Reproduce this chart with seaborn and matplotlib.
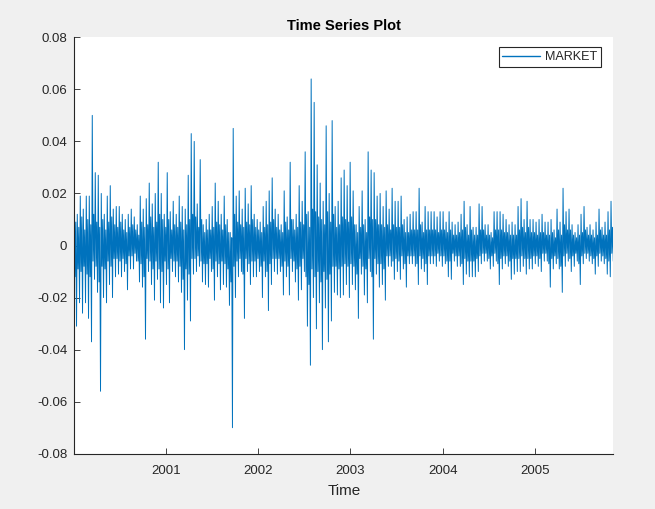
import numpy as np
import pandas as pd
import matplotlib
matplotlib.use("Agg")
import matplotlib.pyplot as plt
import seaborn as sns

# MARKET daily returns (thousandths), one group per ~3 px column:
# extreme high / extreme low of the column and the edges of its dense core
hi_vals = [24, 12, 19, 14, 19, 19, 50, 28, 27, 20, 12, 19, 23, 14, 15, 15, 12, 10, 12, 14,
           11, 8, 19, 14, 18, 24, 16, 20, 32, 20, 12,
           28, 13, 17, 12, 19, 15, 14, 27, 43, 40, 16, 33, 8, 10, 12, 15, 24, 17, 12,
           19, 10, 5, 45, 19, 21, 14, 22, 16, 23, 12,
           10, 9, 15, 17, 21, 26, 14, 12, 8, 21, 11, 32, 10, 12, 23, 17, 36, 13, 64,
           55, 31, 24, 17, 46, 20, 48, 15, 17, 26, 29,
           23, 32, 21, 8, 15, 21, 10, 36, 29, 28, 19, 20, 15, 21, 14, 22, 17, 17, 19,
           10, 11, 12, 13, 13, 22, 9, 15, 13, 13, 13,
           11, 13, 13, 9, 13, 9, 8, 9, 12, 17, 8, 15, 7, 7, 16, 15, 8, 8, 5,
           13, 13, 13, 12, 10, 8, 9, 8, 15, 18, 10,
           17, 10, 10, 9, 10, 12, 9, 9, 10, 6, 14, 9, 22, 13, 14, 8, 5, 8, 12,
           15, 7, 8, 6, 9, 14, 7, 9, 13, 17]
lo_vals = [-31, -22, -26, -22, -28, -37, -13, -18, -56, -20, -22, -15, -20, -12, -11, -12, -10, -17, -9, -9,
           -6, -14, -16, -36, -10, -15, -21, -13, -22, -24, -15,
           -22, -10, -12, -14, -18, -40, -21, -29, -11, -10, -8, -14, -15, -16, -10, -21, -12, -17, -15,
           -16, -23, -70, -20, -12, -10, -28, -10, -15, -12, -12,
           -10, -20, -12, -25, -15, -10, -11, -10, -19, -12, -19, -10, -14, -21, -17, -10, -31, -46, -20,
           -32, -22, -40, -24, -37, -29, -18, -19, -20, -19, -15,
           -20, -15, -17, -28, -11, -19, -22, -10, -36, -11, -16, -15, -21, -8, -8, -13, -10, -13, -9,
           -16, -7, -7, -8, -15, -9, -10, -15, -7, -7, -8,
           -6, -8, -7, -12, -13, -6, -8, -8, -15, -11, -12, -12, -12, -10, -7, -6, -6, -9, -8,
           -6, -15, -9, -7, -8, -13, -11, -10, -10, -8, -11,
           -9, -9, -7, -8, -10, -6, -6, -16, -9, -7, -9, -18, -8, -6, -10, -8, -6, -15, -7,
           -5, -6, -7, -11, -8, -6, -7, -11, -12, -6]
core_hi = [9, 7, 11, 6, 10, 8, 12, 9, 7, 10, 6, 9, 11, 8, 7, 9, 6, 5, 7, 8,
           6, 4, 9, 7, 8, 11, 7, 9, 12, 10, 7,
           10, 6, 8, 7, 9, 6, 8, 10, 12, 11, 7, 10, 5, 6, 6, 7, 9, 8, 6,
           8, 5, 3, 12, 9, 8, 7, 9, 8, 10, 7,
           6, 5, 7, 8, 9, 10, 7, 6, 5, 9, 6, 10, 6, 7, 9, 8, 12, 7, 14,
           13, 11, 10, 8, 13, 9, 12, 7, 8, 11, 10,
           9, 11, 8, 5, 7, 8, 5, 11, 10, 10, 8, 8, 7, 8, 6, 8, 7, 7, 8,
           5, 5, 6, 6, 6, 8, 5, 6, 6, 6, 6,
           5, 6, 6, 5, 6, 4, 4, 5, 6, 7, 4, 6, 4, 4, 6, 6, 4, 4, 3,
           6, 6, 6, 5, 5, 4, 4, 4, 6, 7, 5,
           7, 5, 5, 4, 5, 5, 4, 4, 5, 3, 6, 4, 8, 6, 6, 4, 3, 4, 5,
           6, 4, 4, 3, 4, 6, 4, 4, 6, 7]
core_lo = [-12, -9, -10, -8, -11, -12, -6, -8, -14, -8, -9, -6, -8, -5, -5, -6, -5, -7, -4, -4,
           -3, -6, -7, -12, -5, -6, -9, -6, -9, -10, -6,
           -9, -5, -6, -6, -8, -13, -9, -11, -5, -5, -4, -6, -7, -7, -5, -9, -6, -7, -6,
           -7, -9, -14, -8, -6, -5, -11, -5, -7, -6, -6,
           -5, -8, -6, -10, -7, -5, -5, -5, -8, -6, -8, -5, -6, -9, -8, -5, -12, -15, -9,
           -12, -10, -14, -10, -13, -11, -8, -8, -9, -8, -7,
           -8, -7, -8, -11, -5, -8, -9, -5, -12, -5, -7, -7, -9, -4, -4, -6, -5, -6, -4,
           -7, -4, -4, -4, -7, -4, -5, -7, -4, -4, -4,
           -3, -4, -4, -6, -6, -3, -4, -4, -7, -5, -6, -6, -6, -5, -4, -3, -3, -5, -4,
           -3, -7, -5, -4, -4, -6, -5, -5, -5, -4, -5,
           -5, -5, -4, -4, -5, -3, -3, -7, -5, -4, -5, -8, -4, -3, -5, -4, -3, -7, -4,
           -3, -3, -4, -5, -4, -3, -4, -5, -6, -3]

start_date = "2000-01-03"
end_date = "2005-11-07"
series_name = "MARKET"
year_ticks = ["2001", "2002", "2003", "2004", "2005"]
y_ticks = [-0.08, -0.06, -0.04, -0.02, 0, 0.02, 0.04, 0.06, 0.08]

n = min(len(hi_vals), len(lo_vals), len(core_hi), len(core_lo))
returns = []
for i in range(n):
    returns.extend([hi_vals[i] / 1000.0, core_lo[i] / 1000.0,
                    core_hi[i] / 1000.0, lo_vals[i] / 1000.0])
dates = pd.date_range(start_date, end_date, periods=len(returns))
df = pd.DataFrame({"Time": dates, series_name: returns})

sns.set_theme(style="white")
plt.rcParams["font.family"] = ["Liberation Sans", "DejaVu Sans"]

fig = plt.figure(figsize=(6.55, 5.09), dpi=100, facecolor="#f0f0f0")
ax = fig.add_axes([0.1134, 0.1086, 0.8229, 0.8181])
ax.set_facecolor("white")

sns.lineplot(data=df, x="Time", y=series_name, ax=ax, color="#0072BD",
             linewidth=0.7, legend=False)

ax.set_xlim(pd.Timestamp(start_date), pd.Timestamp(end_date))
ax.set_ylim(-0.08, 0.08)
ax.set_xticks([pd.Timestamp(f"{y}-01-01") for y in year_ticks])
ax.set_xticklabels(year_ticks)
ax.set_yticks(y_ticks)
ax.set_yticklabels(["0" if v == 0 else f"{v:.2f}" for v in y_ticks])

for s in ["top", "right"]:
    ax.spines[s].set_visible(False)
for s in ["left", "bottom"]:
    ax.spines[s].set_color("#262626")
    ax.spines[s].set_linewidth(0.8)

ax.tick_params(axis="both", direction="in", length=4, width=0.6, color="#262626",
               labelsize=9.5, labelcolor="#262626", left=True, bottom=True)
ax.tick_params(axis="y", pad=5)
ax.tick_params(axis="x", pad=8)

ax.set_title("Time Series Plot", fontsize=10.5, fontweight="bold", color="black", pad=5)
ax.set_xlabel("Time", fontsize=11, color="#262626", labelpad=5)
ax.set_ylabel("")

line = ax.lines[0]
leg = ax.legend([line], [series_name], loc="upper right", bbox_to_anchor=(0.985, 0.985),
                fontsize=9.1, frameon=True, fancybox=False, framealpha=1, edgecolor="#262626",
                handlelength=3.0, borderpad=0.3, handletextpad=0.4, borderaxespad=0.3)
leg.get_frame().set_linewidth(0.8)
leg.get_lines()[0].set_linewidth(1.0)

fig.savefig("out.png", dpi=100, facecolor=fig.get_facecolor())
